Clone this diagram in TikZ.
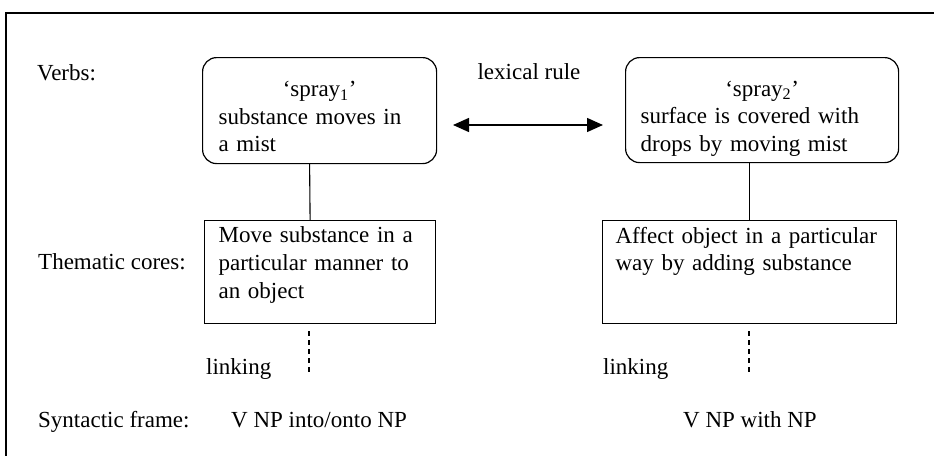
\documentclass[tikz,border=0pt]{standalone}
\usepackage{fontspec}
\setmainfont{Liberation Serif}
\usetikzlibrary{arrows.meta}
\hyphenpenalty=10000
% a centred first line inside a left-aligned box, with a tall strut
\newcommand{\centredline}[1]{\rule{0pt}{33pt}\hspace*{\fill}#1\hspace*{\fill}\mbox{}\\}
% extra depth below the last line of a box
\newcommand{\deepstrut}[1]{\rule[-#1]{0pt}{#1}}
\begin{document}
\begin{tikzpicture}[x=1pt,y=-1pt,
  font=\fontsize{23}{27.6}\selectfont,
  frameline/.style={line width=1.6pt},
  verbbox/.style={draw, line width=1.2pt, rounded corners=14pt, align=left,
    inner ysep=0pt, anchor=north west},
  corebox/.style={draw, line width=1.2pt, align=left, inner ysep=0pt,
    minimum height=103pt, anchor=north west},
  rowlabel/.style={anchor=base west, inner sep=0pt},
  plain/.style={anchor=base west, inner sep=0pt},
  link/.style={line width=1.1pt},
  linkdash/.style={line width=1.1pt, dash pattern=on 5pt off 4pt},
  lexarrow/.style={line width=1.4pt, {Triangle[length=16pt,width=14pt]}-{Triangle[length=16pt,width=14pt]}}
]
\useasboundingbox (0,0) rectangle (934,455);

% outer frame (top and left edges)
\draw[frameline] (6,460) -- (6,13) -- (940,13);

% row labels
\node[rowlabel] (lverbs) at (37,80) {Verbs:};
\node[rowlabel] (lcores) at (38,269) {Thematic cores:};
\node[rowlabel] (lframe) at (38,427) {Syntactic frame:};

% verb senses
\node[verbbox, text width=202pt, inner xsep=16pt, minimum height=106pt] (v1) at (202,57)
  {\centredline{‘spray\textsubscript{1}’}substance moves in\\ a mist\deepstrut{6pt}};
\node[verbbox, text width=243pt, inner xsep=15pt, minimum height=105pt] (v2) at (625,57)
  {\centredline{‘spray\textsubscript{2}’}surface is covered with\\ drops by moving mist\deepstrut{6pt}};

% lexical rule between the two senses
\node[anchor=base, inner sep=0pt] (lex) at (529,79) {lexical rule};
\coordinate (a1) at (453,125);
\coordinate (a2) at (603,125);
\draw[lexarrow] (a1) -- (a2);

% thematic cores
\node[corebox, text width=203pt, inner xsep=14pt] (t1) at (204,220)
  {Move substance in a\\ particular manner to\\ an object\deepstrut{19pt}};
\node[corebox, text width=268pt, inner xsep=13pt] (t2) at (602,220)
  {Affect object in a particular\\ way by adding substance\\ \deepstrut{19pt}};

% verb to core connectors
\draw[link] ([xshift=-10pt]v1.south) -- ([xshift=-10pt]t1.north);
\draw[link] (t2.north |- v2.south) -- (t2.north);

% linking
\coordinate (d1) at (309,373);
\coordinate (d2) at (749,373);
\draw[linkdash] ([yshift=-7pt]d1 |- t1.south) -- (d1);
\draw[linkdash] ([yshift=-7pt]d2 |- t2.south) -- (d2);
\node[plain] (k1) at (206,374) {linking};
\node[plain] (k2) at (603,374) {linking};

% syntactic frames
\node[plain] (f1) at (231,427) {V NP into/onto NP};
\node[plain] (f2) at (683,427) {V NP with NP};
\end{tikzpicture}
\end{document}
